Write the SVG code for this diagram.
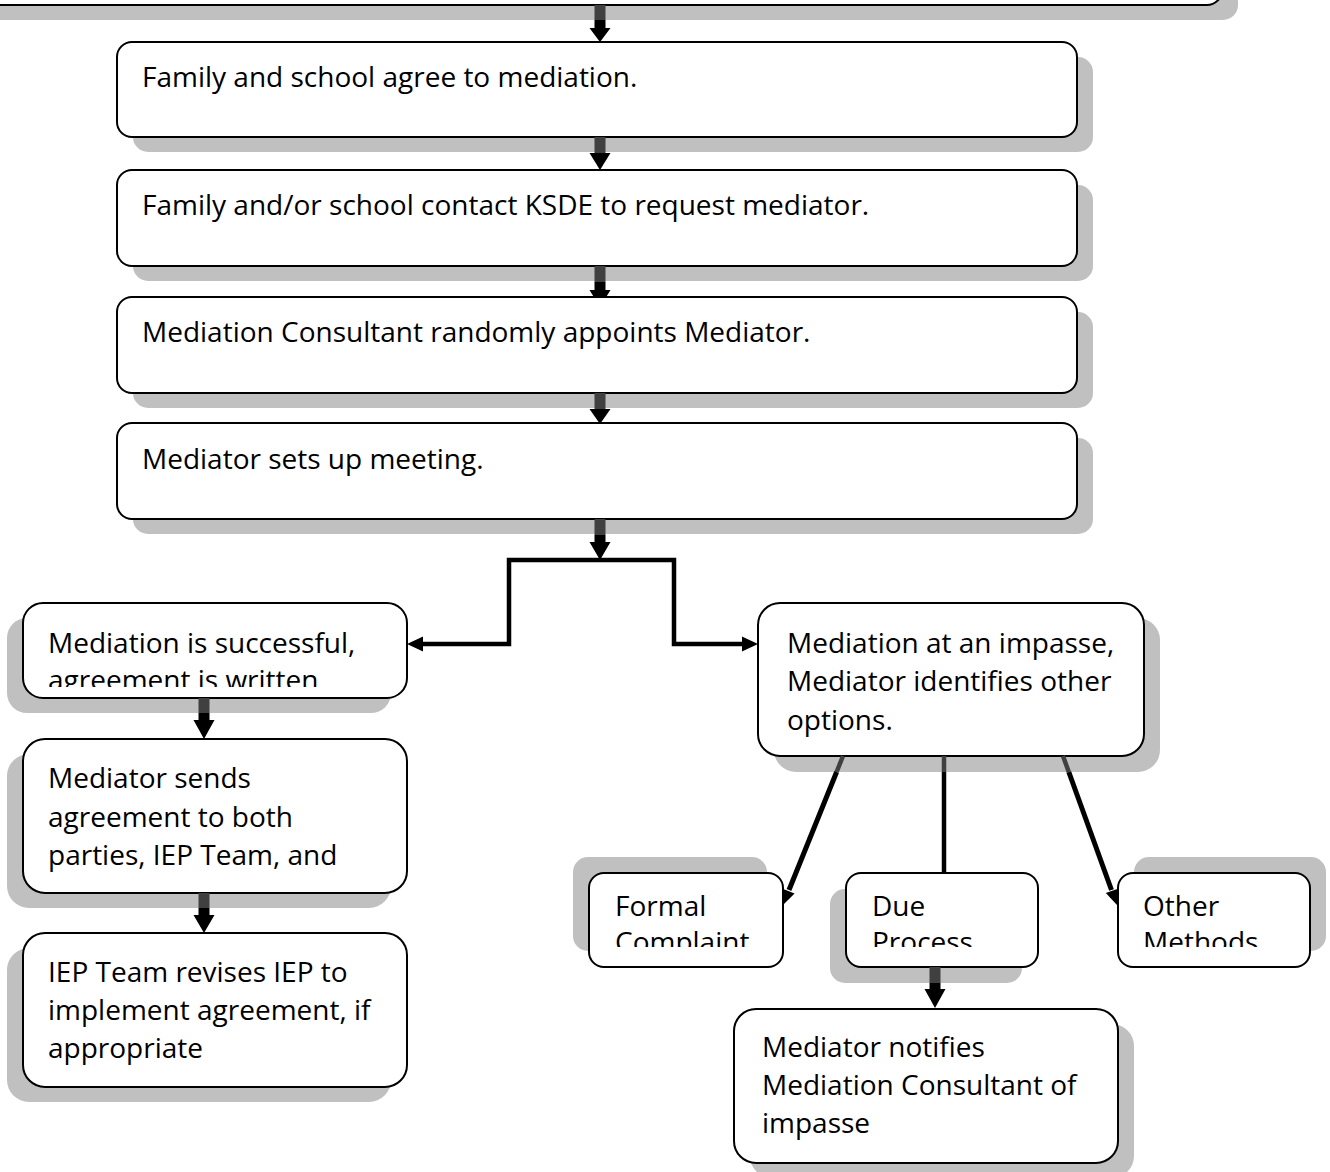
<svg xmlns="http://www.w3.org/2000/svg" width="1330" height="1172" viewBox="0 0 1330 1172">
<style>
.box{fill:#fff;stroke:#000;stroke-width:2}
.sh{fill:#c0c0c0}
.t{font-family:"Open Sans","Liberation Sans",sans-serif;font-size:28px;fill:#000}
.ln{fill:none;stroke:#000;stroke-width:4.5}
.dk{fill:none;stroke:#404040;stroke-width:4.5}
.ah{fill:#000}
.ds{fill:#404040}
</style>
<defs>
<clipPath id="cL1"><rect x="23" y="603" width="384" height="84"/></clipPath>
<clipPath id="cL2"><rect x="23" y="739" width="384" height="140"/></clipPath>
<clipPath id="cFC"><rect x="589" y="873" width="194" height="74"/></clipPath>
<clipPath id="cDP"><rect x="846" y="873" width="192" height="74"/></clipPath>
<clipPath id="cOM"><rect x="1118" y="873" width="192" height="74"/></clipPath>
</defs>
<rect width="1330" height="1172" fill="#fff"/>

<g id="n0">
<rect class="sh" x="-14" y="-85" width="1252" height="105" rx="15"/>
<rect class="box" x="-30" y="-100" width="1252" height="105" rx="15"/>
</g>
<g id="n1">
<rect class="sh" x="133" y="57" width="960" height="95" rx="15"/>
<rect class="box" x="117" y="42" width="960" height="95" rx="15"/>
<text class="t" x="142" y="87">Family and school agree to mediation.</text>
</g>
<g id="n2">
<rect class="sh" x="133" y="185" width="960" height="96" rx="15"/>
<rect class="box" x="117" y="170" width="960" height="96" rx="15"/>
<text class="t" x="142" y="215">Family and/or school contact KSDE to request mediator.</text>
</g>
<g id="n3">
<rect class="sh" x="133" y="312" width="960" height="96" rx="15"/>
<rect class="box" x="117" y="297" width="960" height="96" rx="15"/>
<text class="t" x="142" y="342">Mediation Consultant randomly appoints Mediator.</text>
</g>
<g id="n4">
<rect class="sh" x="133" y="438" width="960" height="96" rx="15"/>
<rect class="box" x="117" y="423" width="960" height="96" rx="15"/>
<text class="t" x="142" y="469">Mediator sets up meeting.</text>
</g>
<g id="nL1">
<rect class="sh" x="7" y="618" width="384" height="95" rx="20"/>
<rect class="box" x="23" y="603" width="384" height="95" rx="20"/>
<g clip-path="url(#cL1)">
<text class="t" x="48" y="653">Mediation is successful,</text>
<text class="t" x="48" y="690">agreement is written</text>
</g>
</g>
<g id="nL2">
<rect class="sh" x="7" y="754" width="384" height="154" rx="22"/>
<rect class="box" x="23" y="739" width="384" height="154" rx="22"/>
<g clip-path="url(#cL2)">
<text class="t" x="48" y="788">Mediator sends</text>
<text class="t" x="48" y="827">agreement to both</text>
<text class="t" x="48" y="865">parties, IEP Team, and</text>
</g>
</g>
<g id="nL3">
<rect class="sh" x="7" y="948" width="384" height="154" rx="22"/>
<rect class="box" x="23" y="933" width="384" height="154" rx="22"/>
<text class="t" x="48" y="982">IEP Team revises IEP to</text>
<text class="t" x="48" y="1020">implement agreement, if</text>
<text class="t" x="48" y="1058">appropriate</text>
</g>
<g id="nR1">
<rect class="sh" x="774" y="618" width="386" height="154" rx="22"/>
<rect class="box" x="758" y="603" width="386" height="153" rx="22"/>
<text class="t" x="787" y="653">Mediation at an impasse,</text>
<text class="t" x="787" y="691">Mediator identifies other</text>
<text class="t" x="787" y="730">options.</text>
</g>
<g id="nFC">
<rect class="sh" x="573" y="857" width="194" height="94" rx="15"/>
<rect class="box" x="589" y="873" width="194" height="94" rx="15"/>
<g clip-path="url(#cFC)">
<text class="t" x="615" y="916">Formal</text>
<text class="t" x="615" y="952">Complaint</text>
</g>
</g>
<g id="nDP">
<rect class="sh" x="830" y="889" width="192" height="94" rx="15"/>
<rect class="box" x="846" y="873" width="192" height="94" rx="15"/>
<g clip-path="url(#cDP)">
<text class="t" x="872" y="916">Due</text>
<text class="t" x="872" y="952">Process</text>
</g>
</g>
<g id="nOM">
<rect class="sh" x="1134" y="857" width="192" height="94" rx="15"/>
<rect class="box" x="1118" y="873" width="192" height="94" rx="15"/>
<g clip-path="url(#cOM)">
<text class="t" x="1143" y="916">Other</text>
<text class="t" x="1143" y="952">Methods</text>
</g>
</g>
<g id="nMN">
<rect class="sh" x="750" y="1024" width="384" height="154" rx="22"/>
<rect class="box" x="734" y="1009" width="384" height="154" rx="22"/>
<text class="t" x="762" y="1057">Mediator notifies</text>
<text class="t" x="762" y="1095">Mediation Consultant of</text>
<text class="t" x="762" y="1133">impasse</text>
</g>

<g id="connectors">
<rect class="ds" x="594.5" y="5" width="11" height="15"/>
<polygon class="ah" points="594.5,20 605.5,20 605.5,28 610.5,28 600,42 589.5,28 594.5,28"/>
<rect class="ds" x="594.5" y="137" width="11" height="16"/>
<polygon class="ah" points="589.5,153 610.5,153 600,170"/>
<rect class="ds" x="594.5" y="266" width="11" height="16"/>
<polygon class="ah" points="594.5,282 605.5,282 605.5,290 610.5,290 606.2,297 593.8,297 589.5,290 594.5,290"/>
<rect class="ds" x="594.5" y="393" width="11" height="16"/>
<polygon class="ah" points="589.5,409 610.5,409 600,424"/>
<rect class="ds" x="594.5" y="519" width="11" height="16"/>
<polygon class="ah" points="594.5,535 605.5,535 605.5,542 610.5,542 600,560 589.5,542 594.5,542"/>
<path class="ln" d="M600 560 H509 V644 H421"/>
<polygon class="ah" points="407,644 423,636.5 423,651.5"/>
<path class="ln" d="M600 560 H674 V644 H744"/>
<polygon class="ah" points="758,644 742,636.5 742,651.5"/>
<rect class="ds" x="198.5" y="698" width="11" height="15"/>
<polygon class="ah" points="198.5,713 209.5,713 209.5,720 214.5,720 204,739 193.5,720 198.5,720"/>
<rect class="ds" x="198.5" y="893" width="11" height="15"/>
<polygon class="ah" points="198.5,908 209.5,908 209.5,915 214.5,915 204,933 193.5,915 198.5,915"/>
<line class="dk" x1="843" y1="756" x2="836.6" y2="772" stroke-width="5"/>
<line class="ln" x1="836.6" y1="772" x2="789" y2="890" style="stroke-width:5"/>
<polygon class="ah" points="783,905 794.6,893.5 782.6,888.7"/>
<line class="dk" x1="944" y1="756" x2="944" y2="772"/>
<line class="ln" x1="944" y1="772" x2="944" y2="873"/>
<line class="dk" x1="1063" y1="756" x2="1068.8" y2="772" stroke-width="5"/>
<line class="ln" x1="1068.8" y1="772" x2="1111.5" y2="890" style="stroke-width:5"/>
<polygon class="ah" points="1117,905 1118,888.7 1105.8,893.1"/>
<rect class="ds" x="929.5" y="967" width="11" height="16"/>
<polygon class="ah" points="929.5,983 940.5,983 940.5,989 945.5,989 935,1008 924.5,989 929.5,989"/>
</g>
</svg>
